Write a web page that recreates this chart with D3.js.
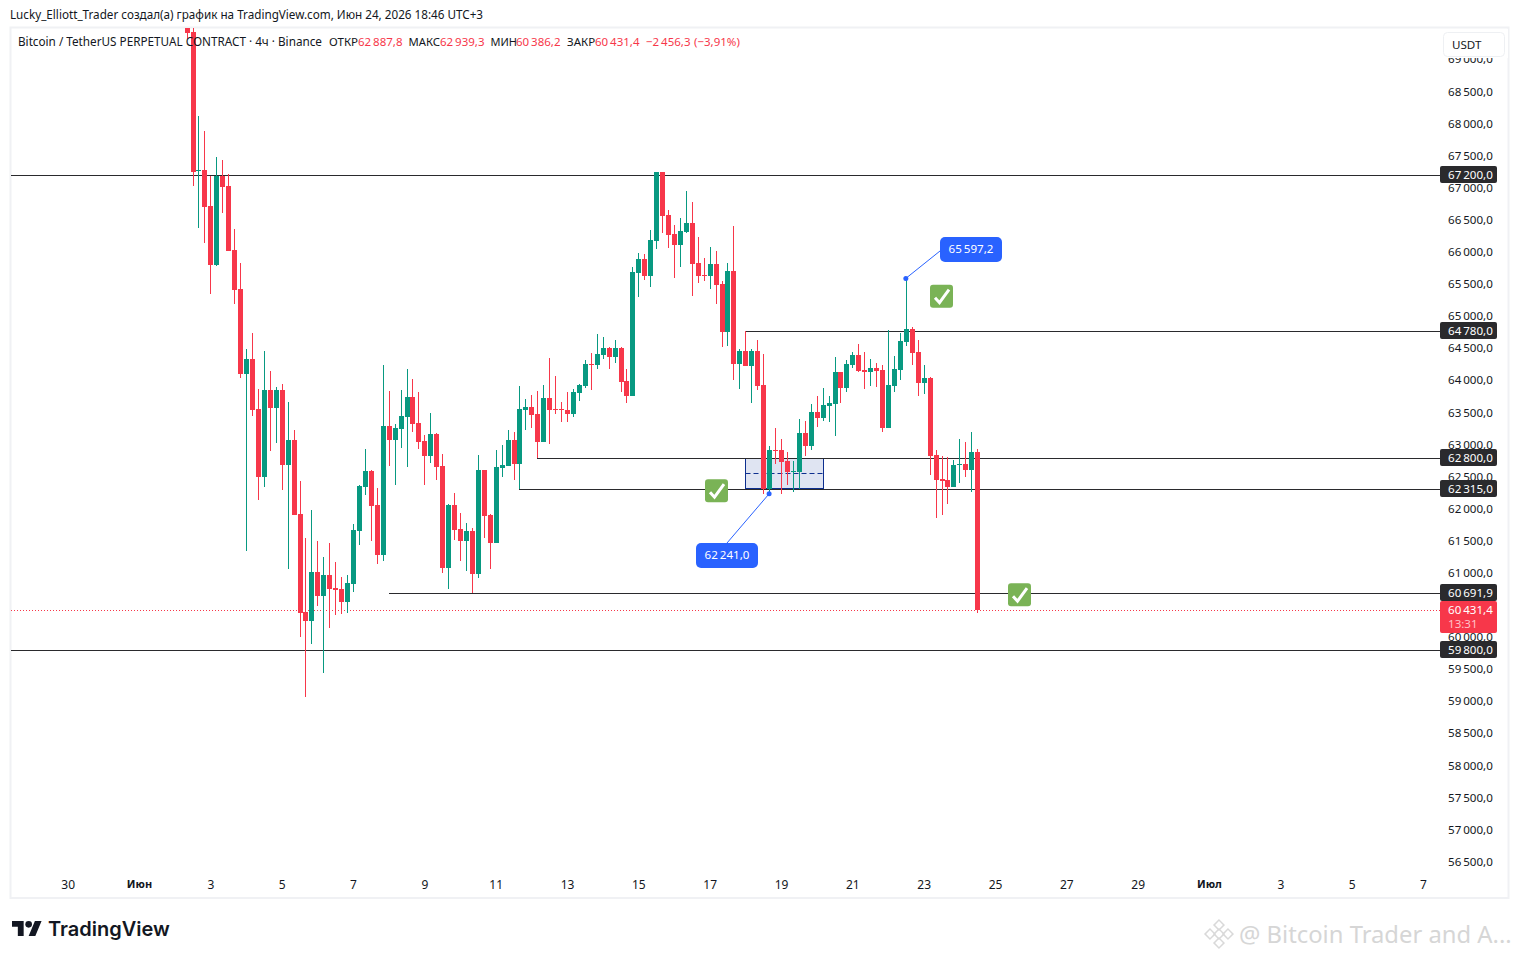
<!DOCTYPE html>
<html>
<head>
<meta charset="utf-8">
<script src="https://cdn.jsdelivr.net/npm/d3@7"></script>
<style>
	html, body { margin: 0; padding: 0; background: #fff; }
	svg { display: block; font-family: "Noto Sans", sans-serif; }
</style>
</head>
<body>
<script>
// 4h candles, last one opens Jun 24 12:00 UTC
var opens = [
	69600, 69435, 67270, 67285, 66725, 65805, 67197, 67036, 66039, 65431,
	64112, 64341, 63562, 62507, 63858, 63577, 63858, 62689, 63079, 61926,
	60399, 60259, 61022, 60648, 60975, 60773, 60757, 60555, 60835, 61661,
	62347, 62596, 62066, 61287, 63297, 63079, 63250, 63437, 63749, 63344,
	63063, 62830, 63172, 62674, 61085, 62066, 61692, 61505, 61661, 60991,
	62611, 61910, 61474, 62643, 62674, 63079, 62705, 63546, 63593, 63484,
	63048, 63733, 63562, 63562, 63546, 63484, 63811, 63920, 64268, 64247,
	64403, 64512, 64372, 64512, 63998, 63764, 65681, 65899, 65634, 66179,
	67254, 66584, 66288, 66117, 66319, 66460, 65836, 65650, 65634, 65821,
	65509, 64761, 65712, 64263, 64465, 64232, 64465, 63936, 62315, 62923,
	62923, 62752, 62580, 62580, 63188, 62985, 63515, 63422, 63609, 63640,
	64138, 63889, 64247, 64403, 64169, 64138, 64201, 64169, 63266, 63920,
	64169, 64606, 64808, 64450, 63967, 64045, 62845, 62471, 62456, 62347,
	62689, 62705, 62611, 62887.8
];
var highs = [
	69700, 69622, 68127, 67893, 67197, 67488, 67441, 67223, 66366, 65836,
	64497, 64746, 63873, 64465, 64154, 63904, 63951, 63671, 63235, 62440,
	61552, 61988, 61505, 61256, 61474, 61178, 60944, 60975, 61770, 62378,
	62939, 62611, 62331, 64247, 63842, 63328, 63858, 64185, 64029, 63827,
	63157, 63499, 63188, 62861, 62082, 62253, 61941, 61786, 61708, 62845,
	62611, 61926, 62923, 63001, 63235, 63203, 63920, 63718, 63780, 63842,
	63936, 64356, 64076, 63671, 63827, 63873, 63951, 64325, 64434, 64730,
	64684, 64528, 64637, 64528, 64185, 65774, 65992, 65977, 66351, 67254,
	67254, 66662, 66428, 66538, 66958, 66787, 66242, 65914, 66086, 66023,
	65556, 65836, 66413, 64497, 64777, 64497, 64637, 64419, 62985, 63266,
	63094, 62892, 62752, 63406, 63375, 63640, 63764, 63889, 63764, 64372,
	64138, 64325, 64450, 64574, 64450, 64341, 64278, 64247, 64793, 64388,
	64746, 65597.2, 64839, 64637, 64247, 64060, 62923, 62830, 62814, 62767,
	63094, 63048, 63203, 62939.3
];
var lows = [
	69326, 67041, 66386, 66153, 65354, 65790, 66620, 66028, 65198, 64049,
	61354, 63453, 62144, 62351, 62907, 63032, 62300, 61069, 61910, 60010,
	59075, 59900, 60492, 59449, 60150, 60352, 60368, 60383, 60711, 61443,
	62222, 61505, 61147, 61194, 62674, 62378, 62954, 62658, 63203, 62939,
	62378, 62720, 62456, 61007, 60757, 61521, 61194, 61038, 60695, 60929,
	61552, 61069, 61474, 62502, 62674, 62456, 62315, 63235, 63266, 62798,
	63048, 63016, 63484, 63359, 63359, 63437, 63686, 63889, 63858, 64185,
	64341, 64185, 64278, 63827, 63655, 63764, 65307, 65572, 65463, 66055,
	66304, 66070, 65603, 65774, 66304, 65322, 65525, 65556, 65431, 65198,
	64528, 64543, 64014, 63873, 64232, 63655, 63858, 62237, 62241, 62705,
	62237, 62378, 62269, 62315, 62830, 62923, 63281, 63375, 63359, 63141,
	63655, 63827, 64201, 64138, 63873, 63920, 63905, 63203, 63266, 63827,
	64014, 64543, 64247, 63764, 63795, 62534, 61864, 61910, 62082, 62347,
	62409, 62502, 62269, 60386.2
];
var closes = [
	69424, 67259, 67280, 66714, 65805, 67197, 67025, 66028, 65416, 64112,
	64341, 63546, 62507, 63858, 63577, 63858, 62689, 63079, 61910, 60383,
	60259, 61022, 60648, 60975, 60757, 60742, 60555, 60851, 61677, 62362,
	62596, 62050, 61287, 63297, 63079, 63266, 63453, 63749, 63328, 63048,
	62830, 63172, 62658, 61085, 62066, 61677, 61505, 61661, 60991, 62611,
	61895, 61474, 62658, 62689, 63079, 62705, 63562, 63593, 63468, 63048,
	63733, 63546, 63546, 63546, 63484, 63827, 63936, 64263, 64252, 64419,
	64512, 64372, 64512, 63982, 63764, 65696, 65899, 65634, 66195, 67254,
	66569, 66273, 66117, 66335, 66460, 65821, 65634, 65634, 65821, 65494,
	64761, 65712, 64263, 64465, 64232, 64465, 63920, 62315, 62923, 62907,
	62736, 62580, 62596, 63188, 62985, 63515, 63422, 63624, 63655, 64138,
	63889, 64263, 64403, 64154, 64138, 64201, 64154, 63266, 63936, 64185,
	64621, 64808, 64434, 63967, 64045, 62830, 62456, 62440, 62347, 62689,
	62705, 62611, 62887.8, 60431.4
];

var priceTicks = [69000, 68500, 68000, 67500, 67000, 66500, 66000, 65500, 65000, 64500, 64000, 63500, 63000, 62500, 62000, 61500, 61000, 60500, 60000, 59500, 59000, 58500, 58000, 57500, 57000, 56500];
var dateTicks = [[4, 30], [5, 1], [5, 3], [5, 5], [5, 7], [5, 9], [5, 11], [5, 13], [5, 15], [5, 17], [5, 19], [5, 21], [5, 23], [5, 25], [5, 27], [5, 29], [6, 1], [6, 3], [6, 5], [6, 7]];
var dateLabels = ["30", "Июн", "3", "5", "7", "9", "11", "13", "15", "17", "19", "21", "23", "25", "27", "29", "Июл", "3", "5", "7"];

// horizontal levels and the candle they start from (-1 = from the left edge)
var levelPrices = [67200, 64780, 62800, 62315, 60691.9, 59800];
var levelStarts = [-1, 94, 59, 56, 34, -1];

var lastPrice = 60431.4;
var countdown = "13:31";
var zoneTop = 62800, zoneBottom = 62315, zoneFirst = 94, zoneLast = 107;

var W = 1519, H = 959;
var red = "#f7374a", green = "#089981", ink = "#131722", dark = "#2a2a2d", blue = "#2962ff";
var H4 = 4 * 3600 * 1000;
var lastTime = Date.UTC(2026, 5, 24, 12);

var ru = d3.formatLocale({ decimal: ",", thousands: "\u2009", grouping: [3], currency: ["", ""], minus: "\u2212" });
var fmt = ru.format(",.1f");

var x = d3.scaleUtc()
	.domain([new Date(Date.UTC(2026, 5, 1)), new Date(Date.UTC(2026, 6, 7))])
	.range([139, 1423]);
var y = d3.scaleLinear()
	.domain([67200, 59800])
	.range([175.5, 650.5]);

function xAt(i) { return x(new Date(lastTime - (opens.length - 1 - i) * H4)); }
function px(i) { return Math.round(xAt(i)); }
function row(p) { return Math.round(y(p) - 0.1); }
function py(p) { return row(p) + 0.5; }

var svg = d3.select("body").append("svg")
	.attr("width", W)
	.attr("height", H);

svg.append("defs").append("clipPath")
	.attr("id", "plot")
	.append("rect")
	.attr("x", 11).attr("y", 28)
	.attr("width", 1429).attr("height", 869);

// frame
svg.append("rect")
	.attr("x", 10.5).attr("y", 27.5)
	.attr("width", 1498).attr("height", 870.5)
	.style("fill", "white")
	.style("stroke", "#f0f1f4")
	.style("stroke-width", 2);

svg.append("text")
	.attr("x", 10).attr("y", 19)
	.style("font-size", "11.7px")
	.style("fill", ink)
	.text("Lucky_Elliott_Trader создал(а) график на TradingView.com, Июн 24, 2026 18:46 UTC+3");

// price axis
var yAxis = d3.axisRight(y)
	.tickValues(priceTicks)
	.tickFormat(fmt)
	.tickSize(0)
	.tickPadding(0);
var yGroup = svg.append("g")
	.attr("transform", "translate(1448,-0.7)")
	.call(yAxis);
yGroup.select(".domain").remove();
yGroup.selectAll("text")
	.style("font-family", "\"Noto Sans\", sans-serif")
	.style("font-size", "11.6px")
	.style("fill", ink);

// time axis
var dates = dateTicks.map(function(d) { return new Date(Date.UTC(2026, d[0], d[1])); });
var xAxis = d3.axisBottom(x)
	.tickValues(dates)
	.tickFormat(function(d, i) { return dateLabels[i]; })
	.tickSize(0)
	.tickPadding(0);
var xGroup = svg.append("g")
	.attr("transform", "translate(0,880)")
	.call(xAxis);
xGroup.select(".domain").remove();
xGroup.selectAll("text")
	.style("font-family", "\"Noto Sans\", sans-serif")
	.style("font-size", function(d, i) { return dateLabels[i].length == 3 ? "11px" : "12px"; })
	.style("fill", ink)
	.style("font-weight", function(d, i) { return dateLabels[i].length == 3 ? "bold" : "normal"; });

var plot = svg.append("g").attr("clip-path", "url(#plot)");

// zone box
plot.append("rect")
	.attr("x", px(zoneFirst) + 0.5)
	.attr("y", py(zoneTop))
	.attr("width", px(zoneLast) - px(zoneFirst))
	.attr("height", py(zoneBottom) - py(zoneTop) - 1)
	.style("fill", "#dfe4f2")
	.style("stroke", "#0d2f8f")
	.style("stroke-width", 1);
plot.append("line")
	.attr("x1", px(zoneFirst) + 0.5)
	.attr("x2", px(zoneLast) + 0.5)
	.attr("y1", py((zoneTop + zoneBottom) / 2))
	.attr("y2", py((zoneTop + zoneBottom) / 2))
	.style("stroke", "#0d2f8f")
	.style("stroke-dasharray", "5,3");

// level lines
plot.selectAll(".level")
	.data(levelPrices)
	.enter()
	.append("line")
	.attr("class", "level")
	.attr("x1", function(d, i) { return levelStarts[i] < 0 ? 11 : px(levelStarts[i]); })
	.attr("x2", 1440)
	.attr("y1", function(d) { return py(d); })
	.attr("y2", function(d) { return py(d); })
	.style("stroke", dark)
	.style("stroke-width", 1);

// last price line
plot.append("line")
	.attr("x1", 11).attr("x2", 1440)
	.attr("y1", py(lastPrice))
	.attr("y2", py(lastPrice))
	.style("stroke", red)
	.style("stroke-dasharray", "1,2")
	.style("shape-rendering", "crispEdges");

// candles
var candle = plot.selectAll(".candle")
	.data(opens)
	.enter()
	.append("g")
	.attr("class", "candle")
	.style("shape-rendering", "crispEdges");

candle.append("line")
	.attr("x1", function(d, i) { return px(i) + 0.5; })
	.attr("x2", function(d, i) { return px(i) + 0.5; })
	.attr("y1", function(d, i) { return y(highs[i]); })
	.attr("y2", function(d, i) { return y(lows[i]); })
	.style("stroke", function(d, i) { return closes[i] >= d ? green : red; });

candle.append("rect")
	.attr("x", function(d, i) { return px(i) - 2; })
	.attr("width", 5)
	.attr("y", function(d, i) { return y(Math.max(d, closes[i])); })
	.attr("height", function(d, i) { return Math.max(1, y(Math.min(d, closes[i])) - y(Math.max(d, closes[i]))); })
	.style("fill", function(d, i) { return closes[i] >= d ? green : red; });

// price labels on the right side
var tag = svg.selectAll(".tag")
	.data(levelPrices)
	.enter()
	.append("g")
	.attr("class", "tag")
	.attr("transform", function(d) { return "translate(1440," + row(d) + ")"; });
tag.append("rect")
	.attr("y", -9)
	.attr("width", 57)
	.attr("height", 17)
	.attr("rx", 2)
	.style("fill", dark);
tag.append("text")
	.attr("x", 8)
	.attr("y", 3.5)
	.style("font-size", "11.6px")
	.style("fill", "white")
	.text(function(d) { return fmt(d); });

var lastTag = svg.append("g")
	.attr("transform", "translate(1440," + row(lastPrice) + ")");
lastTag.append("rect")
	.attr("y", -9)
	.attr("width", 57)
	.attr("height", 32)
	.attr("rx", 2)
	.style("fill", red);
lastTag.append("text")
	.attr("x", 8).attr("y", 4)
	.style("font-size", "11.6px")
	.style("fill", "white")
	.text(fmt(lastPrice));
lastTag.append("text")
	.attr("x", 8).attr("y", 18)
	.style("font-size", "11.6px")
	.style("fill", "#ffc2c8")
	.text(countdown);

// USDT box, the top tick runs under it
svg.append("rect")
	.attr("x", 1441).attr("y", 29)
	.attr("width", 67).attr("height", 29)
	.style("fill", "white");
svg.append("rect")
	.attr("x", 1443.5).attr("y", 32.5)
	.attr("width", 61).attr("height", 24)
	.attr("rx", 4)
	.style("fill", "white")
	.style("stroke", "#eef0f3");
svg.append("text")
	.attr("x", 1452).attr("y", 48.8)
	.style("font-size", "11.6px")
	.style("fill", ink)
	.text("USDT");

// callouts for the high and the low
function callout(i, price, cx, cy, toX, toY) {
	var px0 = xAt(i), py0 = y(price);
	svg.append("line")
		.attr("x1", px0).attr("y1", py0)
		.attr("x2", toX).attr("y2", toY)
		.style("stroke", blue);
	svg.append("circle")
		.attr("cx", px0).attr("cy", py0)
		.attr("r", 2.5)
		.style("fill", blue);
	svg.append("rect")
		.attr("x", cx - 31).attr("y", cy - 12.5)
		.attr("width", 62).attr("height", 25)
		.attr("rx", 5)
		.style("fill", blue);
	svg.append("text")
		.attr("x", cx).attr("y", cy + 3.4)
		.attr("text-anchor", "middle")
		.style("font-size", "11.6px")
		.style("fill", "white")
		.text(fmt(price));
}
callout(121, 65597.2, 971, 249.5, 940, 251);
callout(98, 62241, 727, 555.5, 727, 543);

// check marks
function check(cx, price) {
	var g = svg.append("g")
		.attr("transform", "translate(" + (cx - 11.5) + "," + (y(price) - 11.5) + ")");
	g.append("rect")
		.attr("width", 23).attr("height", 23)
		.attr("rx", 3)
		.style("fill", "#7ab356");
	g.append("path")
		.attr("d", "M5,13L9.5,18L19,5")
		.style("fill", "none")
		.style("stroke", "white")
		.style("stroke-width", 3);
}
check(941.5, 65320);
check(716.5, 62290);
check(1019.5, 60670);

// legend row
var legendBits = [
	[18, "Bitcoin / TetherUS PERPETUAL CONTRACT · 4ч · Binance", ink, 11.73],
	[329, "ОТКР", ink, 11.5],
	[358, fmt(62887.8), red, 11.5],
	[408.5, "МАКС", ink, 11.3],
	[440, fmt(62939.3), red, 11.5],
	[490.5, "МИН", ink, 11],
	[516, fmt(60386.2), red, 11.5],
	[567, "ЗАКР", ink, 11.5],
	[595, fmt(60431.4), red, 11.5],
	[646, "\u22122\u2009456,3", red, 11.5],
	[694, "(\u22123,91%)", red, 11.5]
];
svg.selectAll(".legend")
	.data(legendBits)
	.enter()
	.append("text")
	.attr("class", "legend")
	.attr("x", function(d) { return d[0]; })
	.attr("y", 46)
	.style("font-size", function(d) { return d[3] + "px"; })
	.style("fill", function(d) { return d[2]; })
	.text(function(d) { return d[1]; });

// footer logo
var logo = svg.append("g")
	.attr("transform", "translate(12,917.7) scale(0.833)")
	.style("fill", "#131722");
logo.append("path").attr("d", "M14 22H7V11H0V4h14v18zM28 22h-8l7.5-18h8L28 22z");
logo.append("circle").attr("cx", 20).attr("cy", 8).attr("r", 4);
svg.append("text")
	.attr("x", 48).attr("y", 936)
	.style("font-family", "Inter, sans-serif")
	.style("font-size", "20px")
	.style("font-weight", "600")
	.style("fill", "#131722")
	.text("TradingView");

// watermark
var mark = svg.append("g")
	.attr("transform", "translate(1219,934)")
	.style("fill", "none")
	.style("stroke", "#d9d9d9")
	.style("stroke-width", 1.5);
[[0, -9], [-9, 0], [9, 0], [0, 9], [0, 0]].forEach(function(p) {
	mark.append("rect")
		.attr("x", p[0] - 3.5).attr("y", p[1] - 3.5)
		.attr("width", 7).attr("height", 7)
		.attr("transform", "rotate(45 " + p[0] + " " + p[1] + ")");
});
svg.append("text")
	.attr("x", 1239).attr("y", 943)
	.style("font-size", "23.8px")
	.style("fill", "#d6d6d6")
	.text("@ Bitcoin Trader and A...");
</script>
</body>
</html>
